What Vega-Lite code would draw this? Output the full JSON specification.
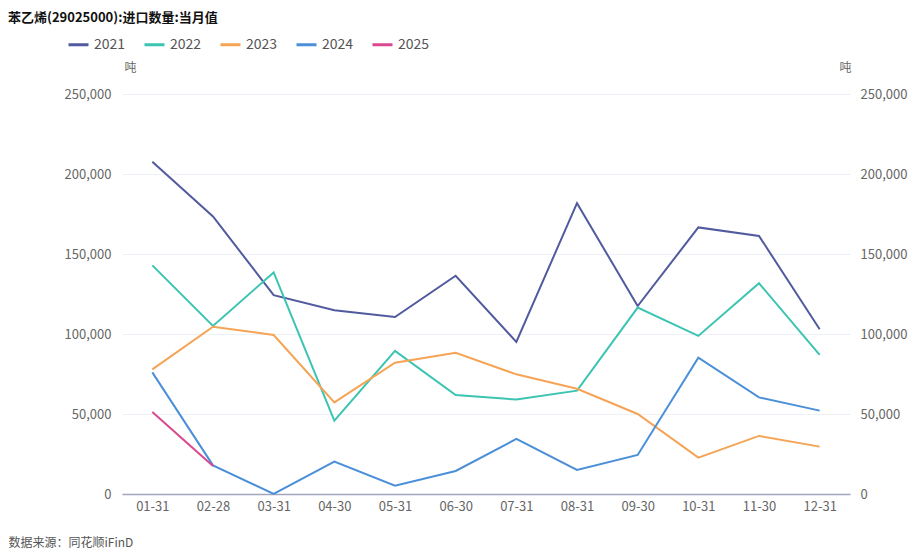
{
  "$schema": "https://vega.github.io/schema/vega-lite/v6.json",
  "autosize": "none",
  "width": 728,
  "height": 400,
  "padding": {"left": 122, "top": 94, "right": 65, "bottom": 56},
  "background": "white",
  "title": {
    "text": "苯乙烯(29025000):进口数量:当月值",
    "anchor": "start",
    "frame": "group",
    "dx": -114,
    "offset": 8,
    "font": "Noto Sans CJK SC",
    "fontSize": 13,
    "fontWeight": "bold",
    "color": "#111111"
  },
  "config": {
    "view": {"stroke": null},
    "font": "Noto Sans CJK SC",
    "axis": {"labelFont": "Noto Sans CJK SC", "titleFont": "Noto Sans CJK SC"}
  },
  "data": {
    "values": [
      {"date": "01-31", "year": "2021", "value": 207700},
      {"date": "02-28", "year": "2021", "value": 173500},
      {"date": "03-31", "year": "2021", "value": 124300},
      {"date": "04-30", "year": "2021", "value": 114800},
      {"date": "05-31", "year": "2021", "value": 110600},
      {"date": "06-30", "year": "2021", "value": 136400},
      {"date": "07-31", "year": "2021", "value": 95100},
      {"date": "08-31", "year": "2021", "value": 181800},
      {"date": "09-30", "year": "2021", "value": 117500},
      {"date": "10-31", "year": "2021", "value": 166600},
      {"date": "11-30", "year": "2021", "value": 161300},
      {"date": "12-31", "year": "2021", "value": 103000},
      {"date": "01-31", "year": "2022", "value": 142900},
      {"date": "02-28", "year": "2022", "value": 105000},
      {"date": "03-31", "year": "2022", "value": 138500},
      {"date": "04-30", "year": "2022", "value": 45900},
      {"date": "05-31", "year": "2022", "value": 89400},
      {"date": "06-30", "year": "2022", "value": 61900},
      {"date": "07-31", "year": "2022", "value": 59000},
      {"date": "08-31", "year": "2022", "value": 64600},
      {"date": "09-30", "year": "2022", "value": 116500},
      {"date": "10-31", "year": "2022", "value": 98800},
      {"date": "11-30", "year": "2022", "value": 131700},
      {"date": "12-31", "year": "2022", "value": 86900},
      {"date": "01-31", "year": "2023", "value": 77900},
      {"date": "02-28", "year": "2023", "value": 104500},
      {"date": "03-31", "year": "2023", "value": 99400},
      {"date": "04-30", "year": "2023", "value": 57300},
      {"date": "05-31", "year": "2023", "value": 82100},
      {"date": "06-30", "year": "2023", "value": 88300},
      {"date": "07-31", "year": "2023", "value": 74800},
      {"date": "08-31", "year": "2023", "value": 65800},
      {"date": "09-30", "year": "2023", "value": 50000},
      {"date": "10-31", "year": "2023", "value": 22700},
      {"date": "11-30", "year": "2023", "value": 36300},
      {"date": "12-31", "year": "2023", "value": 29600},
      {"date": "01-31", "year": "2024", "value": 76000},
      {"date": "02-28", "year": "2024", "value": 17900},
      {"date": "03-31", "year": "2024", "value": 100},
      {"date": "04-30", "year": "2024", "value": 20200},
      {"date": "05-31", "year": "2024", "value": 5200},
      {"date": "06-30", "year": "2024", "value": 14400},
      {"date": "07-31", "year": "2024", "value": 34400},
      {"date": "08-31", "year": "2024", "value": 15000},
      {"date": "09-30", "year": "2024", "value": 24400},
      {"date": "10-31", "year": "2024", "value": 85200},
      {"date": "11-30", "year": "2024", "value": 60400},
      {"date": "12-31", "year": "2024", "value": 52100},
      {"date": "01-31", "year": "2025", "value": 51300},
      {"date": "02-28", "year": "2025", "value": 17500}
    ]
  },
  "layer": [
    {
      "mark": {"type": "line", "strokeWidth": 2},
      "encoding": {
        "x": {
          "field": "date",
          "type": "ordinal",
          "sort": ["01-31","02-28","03-31","04-30","05-31","06-30","07-31","08-31","09-30","10-31","11-30","12-31"],
          "scale": {"type": "point", "padding": 0.5},
          "axis": {
            "title": "数据来源：同花顺iFinD",
            "titleX": -114,
            "titleY": 48,
            "titleAnchor": "start",
            "titleAlign": "left",
            "titleBaseline": "middle",
            "titleFontSize": 12,
            "titleFontWeight": "normal",
            "titleColor": "#555555",
            "labelAngle": 0,
            "labelFontSize": 13,
            "labelColor": "#666666",
            "labelPadding": 6,
            "ticks": false,
            "domainColor": "#a0a6bd",
            "domainWidth": 1.5,
            "grid": false
          }
        },
        "y": {
          "field": "value",
          "type": "quantitative",
          "scale": {"domain": [0, 250000], "nice": false},
          "axis": {
            "title": "吨",
            "titleAngle": 0,
            "titleX": 8,
            "titleY": -27,
            "titleAlign": "center",
            "titleBaseline": "middle",
            "titleFontSize": 12,
            "titleFontWeight": "normal",
            "titleColor": "#666666",
            "values": [0, 50000, 100000, 150000, 200000, 250000],
            "format": ",d",
            "labelFontSize": 13,
            "labelColor": "#666666",
            "labelPadding": 11,
            "ticks": false,
            "domain": false,
            "grid": true,
            "gridColor": "#eef0f8",
            "gridWidth": 1
          }
        },
        "color": {
          "field": "year",
          "type": "nominal",
          "scale": {
            "domain": ["2021", "2022", "2023", "2024", "2025"],
            "range": ["#515a9e", "#3cc4b2", "#f5a455", "#4a8fd8", "#d9488f"]
          },
          "legend": {
            "title": null,
            "orient": "none",
            "direction": "horizontal",
            "legendX": -55,
            "legendY": -61,
            "symbolType": "stroke",
            "symbolSize": 400,
            "symbolStrokeWidth": 3,
            "labelFontSize": 14,
            "labelColor": "#555555",
            "labelOffset": 4,
            "columnPadding": 12
          }
        }
      }
    },
    {
      "mark": {"type": "line", "opacity": 0},
      "encoding": {
        "x": {
          "field": "date",
          "type": "ordinal",
          "sort": ["01-31","02-28","03-31","04-30","05-31","06-30","07-31","08-31","09-30","10-31","11-30","12-31"],
          "scale": {"type": "point", "padding": 0.5}
        },
        "y": {
          "field": "value",
          "type": "quantitative",
          "scale": {"domain": [0, 250000], "nice": false},
          "axis": {
            "orient": "right",
            "title": "吨",
            "titleAngle": 0,
            "titleX": -5,
            "titleY": -27,
            "titleAlign": "center",
            "titleBaseline": "middle",
            "titleFontSize": 12,
            "titleFontWeight": "normal",
            "titleColor": "#666666",
            "values": [0, 50000, 100000, 150000, 200000, 250000],
            "format": ",d",
            "labelFontSize": 13,
            "labelColor": "#666666",
            "labelPadding": 10,
            "ticks": false,
            "domain": false,
            "grid": false
          }
        },
        "detail": {"field": "year"}
      }
    }
  ],
  "resolve": {"scale": {"y": "independent"}, "axis": {"y": "independent"}}
}
